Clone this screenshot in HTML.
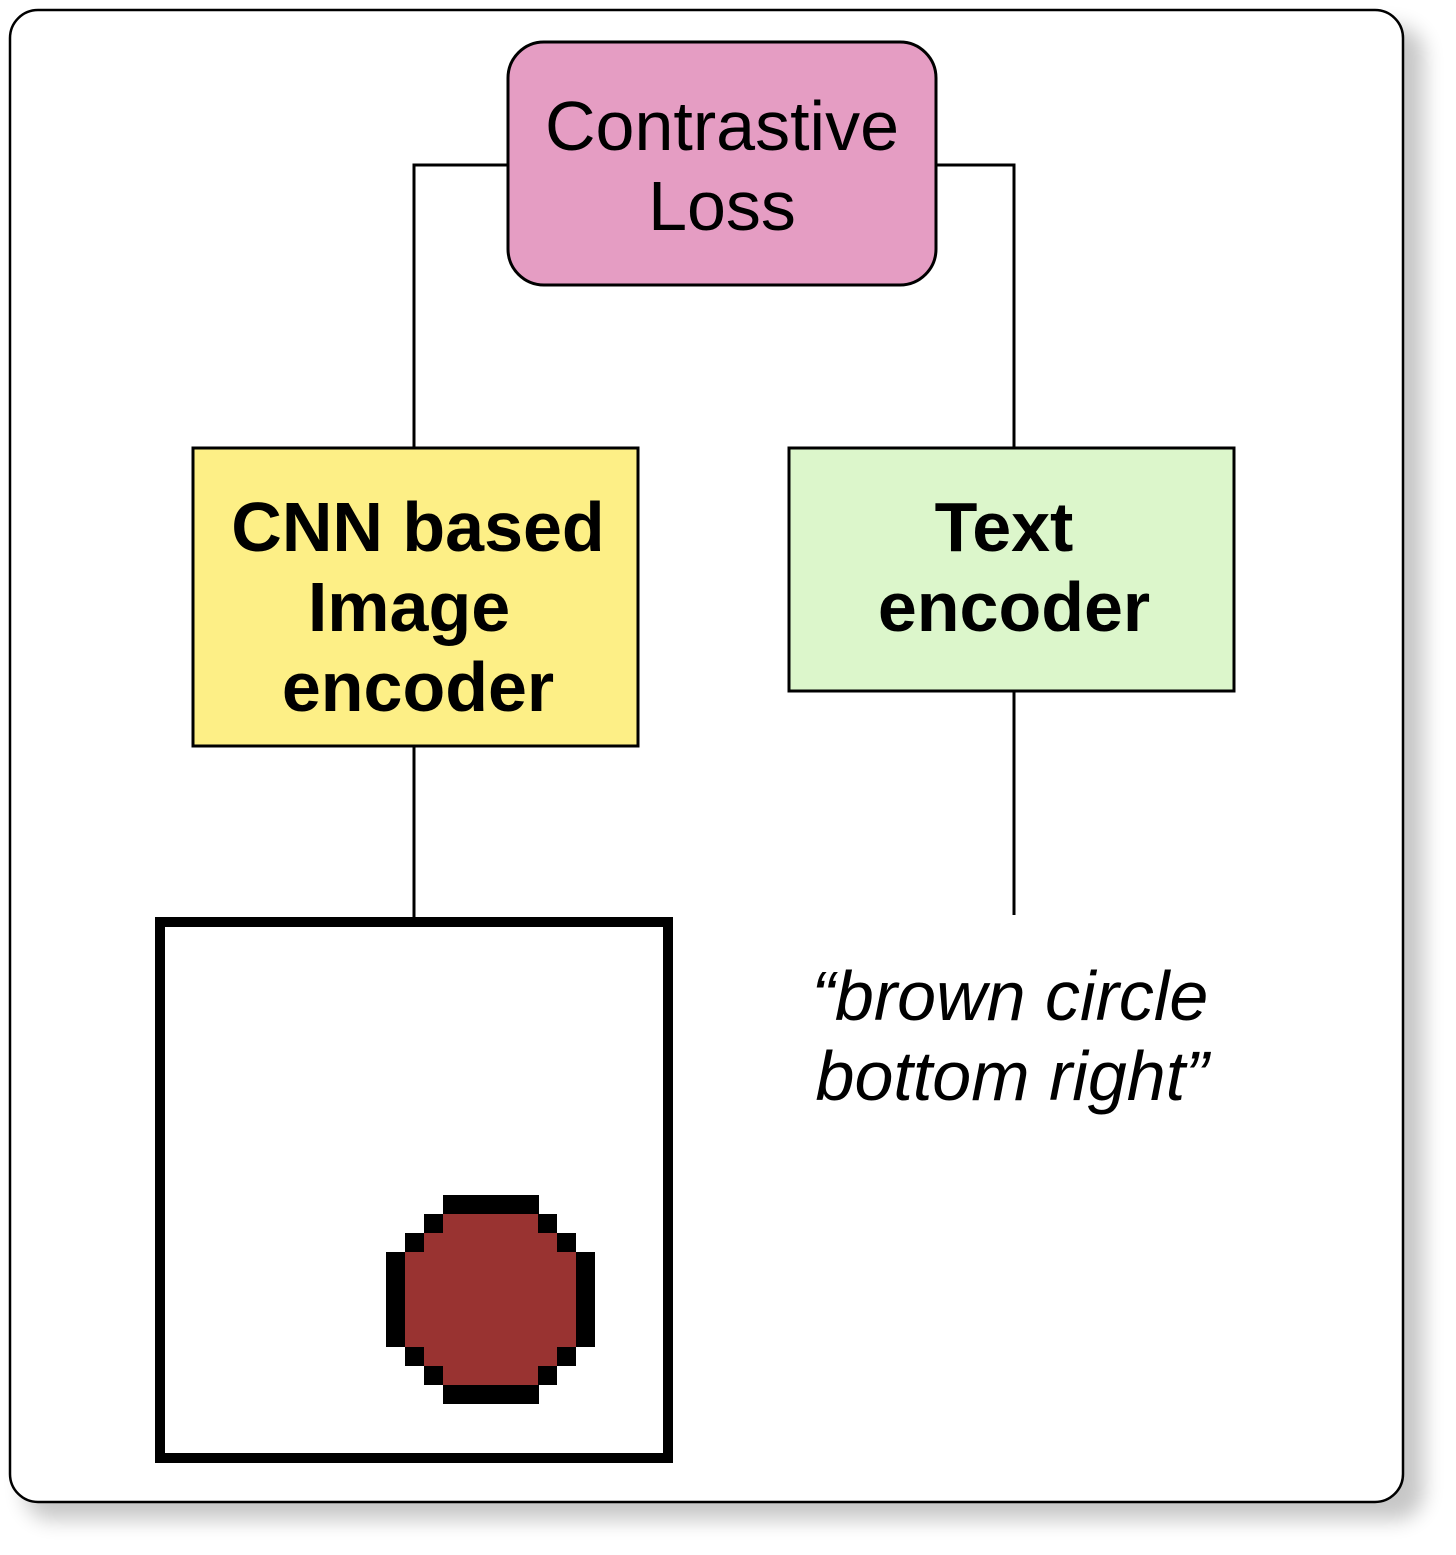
<!DOCTYPE html>
<html><head><meta charset="utf-8"><style>
html,body{margin:0;padding:0;background:#fff;}
svg{display:block;}
</style></head><body>
<svg width="1456" height="1555" viewBox="0 0 1456 1555" xmlns="http://www.w3.org/2000/svg">
<defs>
<filter id="sh" x="-10%" y="-10%" width="130%" height="130%">
<feGaussianBlur stdDeviation="10"/>
</filter>
</defs>
<rect x="24" y="26" width="1400" height="1494" rx="28" fill="#000" opacity="0.22" filter="url(#sh)"/>
<rect x="10" y="10" width="1393" height="1492" rx="28" fill="#fff" stroke="#000" stroke-width="2.5"/>
<g stroke="#000" stroke-width="3" fill="none">
<polyline points="414,448 414,165 508,165"/>
<polyline points="1014,448 1014,165 936,165"/>
<line x1="414" y1="746" x2="414" y2="917"/>
<line x1="1014" y1="691" x2="1014" y2="915"/>
</g>
<rect x="508" y="42" width="428" height="243" rx="36" fill="#e59dc3" stroke="#000" stroke-width="3"/>
<rect x="193" y="448" width="445" height="298" fill="#fdef86" stroke="#000" stroke-width="3"/>
<rect x="789" y="448" width="445" height="243" fill="#dcf6cb" stroke="#000" stroke-width="3"/>
<rect x="160" y="922" width="508" height="536" fill="#fff" stroke="#000" stroke-width="10"/>
<g font-family="'Liberation Sans', Arial, sans-serif" font-size="70" text-anchor="middle" fill="#000">
<text x="722" y="150">Contrastive</text>
<text x="722" y="230">Loss</text>
<g font-weight="bold">
<text x="418" y="551">CNN based</text>
<text x="409" y="631">Image</text>
<text x="418" y="711">encoder</text>
<text x="1004" y="551">Text</text>
<text x="1014" y="631">encoder</text>
</g>
<g font-style="italic">
<text x="1010" y="1020">“brown circle</text>
<text x="1012" y="1100">bottom right”</text>
</g>
</g>
<g>
<rect x="405" y="1214" width="171" height="171" fill="#993331"/>
<rect x="386" y="1252" width="209" height="95" fill="#993331"/>
<rect x="424" y="1214" width="133" height="171" fill="#993331"/>
<g fill="#000">
<rect x="443" y="1195" width="96" height="19"/>
<rect x="443" y="1385" width="96" height="19"/>
<rect x="424" y="1214" width="19" height="19"/>
<rect x="538" y="1214" width="19" height="19"/>
<rect x="405" y="1233" width="19" height="19"/>
<rect x="557" y="1233" width="19" height="19"/>
<rect x="386" y="1252" width="19" height="95"/>
<rect x="576" y="1252" width="19" height="95"/>
<rect x="405" y="1347" width="19" height="19"/>
<rect x="557" y="1347" width="19" height="19"/>
<rect x="424" y="1366" width="19" height="19"/>
<rect x="538" y="1366" width="19" height="19"/>
</g>
<rect x="405" y="1214" width="19" height="19" fill="#fff"/>
<rect x="557" y="1214" width="19" height="19" fill="#fff"/>
<rect x="405" y="1366" width="19" height="19" fill="#fff"/>
<rect x="557" y="1366" width="19" height="19" fill="#fff"/>
</g>
</svg>
</body></html>
